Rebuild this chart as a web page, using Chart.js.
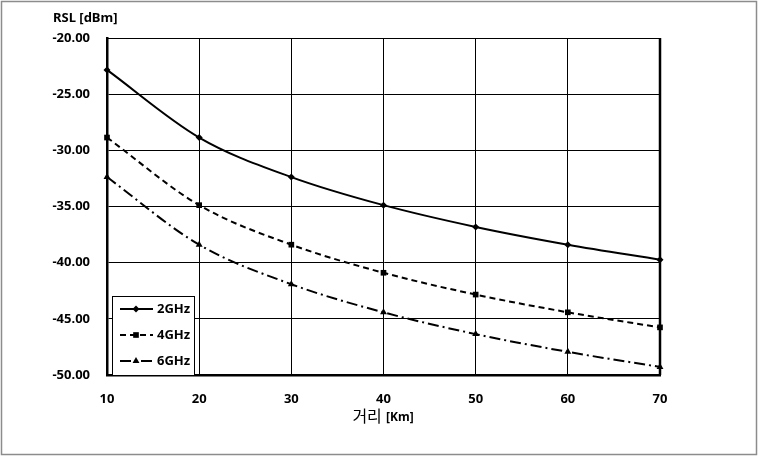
<!DOCTYPE html>
<html lang="ko">
<head>
    <meta charset="UTF-8">
    <title>RSL vs distance</title>
    <script src="https://cdn.jsdelivr.net/npm/chart.js"></script>
    <style>
        body { margin: 0; background: #fff; }
        #wrap { position: relative; width: 759px; height: 457px; }
    </style>
</head>
<body>
    <div id="wrap">
        <canvas id="rslChart" width="759" height="457"></canvas>
    </div>

    <script>
        // values
        const distances = [10, 20, 30, 40, 50, 60, 70];
        const rsl2GHz = [-22.84, -28.86, -32.38, -34.88, -36.82, -38.40, -39.74];
        const rsl4GHz = [-28.86, -34.88, -38.40, -40.90, -42.84, -44.42, -45.76];
        const rsl6GHz = [-32.38, -38.40, -41.92, -44.42, -46.36, -47.94, -49.28];
        const seriesLabels = ['2GHz', '4GHz', '6GHz'];
        const yTitle = 'RSL [dBm]';
        const xTitleKo = '거리';
        const xTitleUnit = '[Km]';

        const FONT = "'Noto Sans', 'Noto Sans CJK KR', sans-serif";

        function toPoints(values) {
            return distances.map((d, i) => ({ x: d, y: values[i] }));
        }

        const styles = [
            { dash: [], point: 'rectRot', radius: 3.5 },
            { dash: [6, 4], point: 'rect', radius: 4 },
            { dash: [11, 4, 2, 4], point: 'triangle', radius: 4 }
        ];

        const datasets = [rsl2GHz, rsl4GHz, rsl6GHz].map((vals, i) => ({
            label: seriesLabels[i],
            data: toPoints(vals),
            borderColor: '#000',
            backgroundColor: '#000',
            borderWidth: 2,
            borderDash: styles[i].dash,
            pointStyle: styles[i].point,
            pointRadius: styles[i].radius,
            pointBorderWidth: 0,
            cubicInterpolationMode: 'monotone',
            clip: false
        }));

        // frame, titles and the inner legend box
        const extras = {
            id: 'extras',
            afterDraw(chart) {
                const ctx = chart.ctx;
                const a = chart.chartArea;
                ctx.save();

                // outer grey frame
                ctx.strokeStyle = '#8c8c8c';
                ctx.lineWidth = 1.5;
                ctx.strokeRect(1.5, 1.5, 755, 453);

                // plot border
                ctx.strokeStyle = '#000';
                ctx.lineWidth = 1;
                ctx.beginPath();
                ctx.moveTo(a.left, a.top + 0.5);
                ctx.lineTo(a.right, a.top + 0.5);
                ctx.stroke();
                ctx.lineWidth = 2.5;
                ctx.beginPath();
                ctx.moveTo(a.right, a.top);
                ctx.lineTo(a.right, a.bottom);
                ctx.stroke();

                // y title
                ctx.fillStyle = '#000';
                ctx.font = 'bold 13px ' + FONT;
                ctx.textBaseline = 'middle';
                ctx.textAlign = 'left';
                ctx.fillText(yTitle, 53, 18);

                // x title
                ctx.font = '16px ' + FONT;
                const w1 = ctx.measureText(xTitleKo + ' ').width;
                ctx.font = 'bold 12px ' + FONT;
                const w2 = ctx.measureText(xTitleUnit).width;
                let x0 = 383 - (w1 + w2) / 2;
                ctx.textBaseline = 'alphabetic';
                ctx.font = '16px ' + FONT;
                ctx.fillText(xTitleKo + ' ', x0, 422);
                ctx.font = 'bold 12px ' + FONT;
                ctx.fillText(xTitleUnit, x0 + w1, 421);

                // legend box
                const bx = 112, by = 296, bw = 82, bh = a.bottom - 296;
                ctx.fillStyle = '#fff';
                ctx.fillRect(bx, by, bw, bh);
                ctx.strokeStyle = '#000';
                ctx.lineWidth = 1;
                ctx.strokeRect(bx + 0.5, by + 0.5, bw, bh);

                chart.data.datasets.forEach((ds, i) => {
                    const y = 309 + i * 26;
                    ctx.strokeStyle = '#000';
                    ctx.fillStyle = '#000';
                    ctx.lineWidth = 2;
                    ctx.setLineDash(ds.borderDash);
                    ctx.beginPath();
                    ctx.moveTo(120, y);
                    ctx.lineTo(153, y);
                    ctx.stroke();
                    ctx.setLineDash([]);
                    Chart.helpers.drawPoint(ctx, {
                        pointStyle: ds.pointStyle,
                        radius: ds.pointRadius,
                        borderWidth: 0
                    }, 136, y);
                    ctx.fillStyle = '#000';
                    ctx.font = 'bold 13px ' + FONT;
                    ctx.textBaseline = 'middle';
                    ctx.textAlign = 'left';
                    ctx.fillText(ds.label, 157, y);
                });

                ctx.restore();
            }
        };

        new Chart(document.getElementById('rslChart'), {
            type: 'line',
            data: { datasets: datasets },
            options: {
                responsive: false,
                animation: false,
                layout: { padding: { left: 0, top: 38, right: 99, bottom: 0 } },
                plugins: {
                    legend: { display: false },
                    tooltip: { enabled: false }
                },
                scales: {
                    x: {
                        type: 'linear',
                        min: 10,
                        max: 70,
                        afterFit(scale) { scale.height = 457 - 375; },
                        ticks: {
                            stepSize: 10,
                            padding: 16,
                            color: '#000',
                            font: { family: FONT, size: 13, weight: 'bold' }
                        },
                        grid: { color: '#000', lineWidth: 1, drawTicks: false },
                        border: { color: '#000', width: 2.5 }
                    },
                    y: {
                        min: -50,
                        max: -20,
                        afterFit(scale) { scale.width = 107; },
                        ticks: {
                            stepSize: 5,
                            padding: 17,
                            color: '#000',
                            font: { family: FONT, size: 13, weight: 'bold' },
                            callback: v => v.toFixed(2)
                        },
                        grid: { color: '#000', lineWidth: 1, drawTicks: false },
                        border: { color: '#000', width: 2.5 }
                    }
                }
            },
            plugins: [extras]
        });
    </script>
</body>
</html>
